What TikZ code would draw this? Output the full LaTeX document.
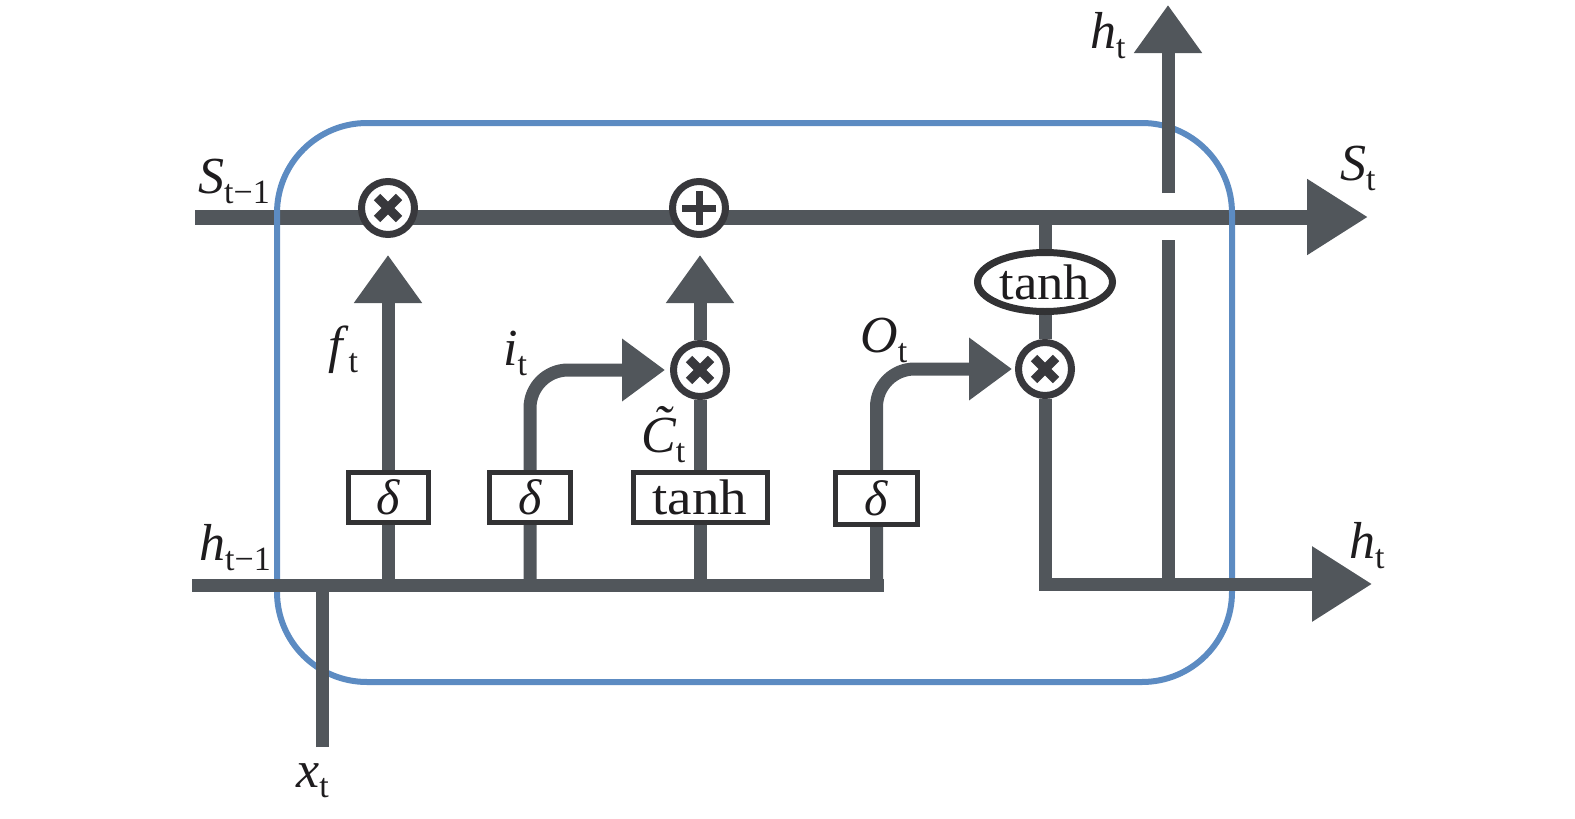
\documentclass[tikz,border=0pt]{standalone}
\usepackage{fontspec}
\setmainfont{Liberation Serif}
\usetikzlibrary{arrows.meta,shapes.geometric}
\pgfdeclarelayer{lzero}
\pgfdeclarelayer{lone}
\pgfdeclarelayer{ltwo}
\pgfsetlayers{lzero,lone,ltwo,main}
\definecolor{lg}{RGB}{81,86,91}
\definecolor{cb}{RGB}{56,56,60}
\definecolor{bx}{RGB}{50,50,52}
\definecolor{bl}{RGB}{92,139,194}
\definecolor{tx}{RGB}{30,28,30}
\newcommand{\lab}[2]{\textit{#1}\raisebox{-10pt}{\fontsize{34}{34}\selectfont #2}}
\newcommand{\ctilde}{\ooalign{C\cr\hidewidth\kern0.12em\raisebox{0.2em}{\char"02DC}\hidewidth\cr}}
\newcommand{\mulsign}[1]{\draw[cb,line width=9pt] ([shift={(-11,-11)}]#1.center) -- ([shift={(11,11)}]#1.center) ([shift={(-11,11)}]#1.center) -- ([shift={(11,-11)}]#1.center);}
\begin{document}
\begin{tikzpicture}[x=1pt,y=-1pt,
  wire/.style={draw=lg,line width=13pt,line join=miter},
  tipv/.style={-{Triangle[width=65pt,length=48pt]}},
  tiph/.style={-{Triangle[width=60pt,length=43pt]}},
  tipbig/.style={-{Triangle[width=72pt,length=60pt]}},
  gate/.style={draw=bx,line width=5pt,fill=white,inner sep=0pt,minimum height=50pt,text=tx,font=\fontsize{50}{50}\selectfont},
  op/.style={circle,draw=cb,line width=7pt,fill=white,minimum size=53pt,inner sep=0pt},
  lbl/.style={anchor=base west,inner sep=0pt,text=tx,font=\fontsize{52}{52}\selectfont}]
\useasboundingbox (0,0) rectangle (1575,819);
% coordinates
\coordinate (sl) at (195,217);
\coordinate (sr) at (1368,217);
\coordinate (hl) at (192,585);
\coordinate (he) at (884,585);
\coordinate (hr) at (1372,584);
\coordinate (xb) at (322,747);
\coordinate (ht) at (1168,5);
\coordinate (g1) at (1168,240);
\coordinate (g2) at (1168,193);
\coordinate (f1) at (388,255);
\coordinate (f2) at (700,255);
% nodes
\node[op] (m1) at (388,208) {};
\node[op] (add) at (699,208) {};
\node[op] (m2) at (700,370) {};
\node[op] (m3) at (1045,369) {};
\node[gate,minimum width=80pt] (b1) at (388,497.5) {\textit{δ}};
\node[gate,minimum width=81pt] (b2) at (530,497.5) {\textit{δ}};
\node[gate,minimum width=134pt] (bt) at (700,497.5) {\scalebox{1.1}[1]{tanh}};
\node[gate,minimum width=82pt,minimum height=52pt] (b3) at (876.5,498.5) {\textit{δ}};
\node[ellipse,draw=bx,line width=7pt,fill=white,minimum width=135pt,minimum height=59pt,inner sep=0pt,text=tx,font=\fontsize{50}{50}\selectfont] (th) at (1045,282) {\scalebox{1.05}[1]{tanh}};
% cell state line
\begin{pgfonlayer}{lzero}
\draw[draw=lg,line width=15pt,-{Triangle[width=72pt,length=61pt]}] (sl) -- (sr);
\end{pgfonlayer}
\begin{pgfonlayer}{lone}
\draw[bl,line width=6pt,rounded corners=90pt] (277,123) rectangle (1232,682);
\end{pgfonlayer}
\begin{pgfonlayer}{ltwo}
\draw[wire] (hl) -- (he);
\draw[wire] (xb) -- (xb |- hl);
\draw[wire,tipv] (b1 |- hl) -- (f1);
\draw[wire,tiph,rounded corners=38pt] (b2 |- hl) |- ([xshift=-5pt]m2.west);
\draw[wire] (bt |- hl) -- (m2);
\draw[wire,tipv] (m2) -- (f2);
\draw[wire,tiph,rounded corners=38pt] (b3 |- hl) |- ([xshift=-3pt]m3.west);
\draw[wire] (th |- sl) -- (m3);
\draw[wire,tipbig] (m3) |- (hr);
\draw[wire] (ht |- hr) -- (g1);
\draw[wire,tipv] (g2) -- (ht);
\end{pgfonlayer}
% signs
\mulsign{m1}
\mulsign{m2}
\mulsign{m3}
\draw[cb,line width=7pt] ([shift={(-17,0)}]add.center) -- ([shift={(17,0)}]add.center) ([shift={(0,-17)}]add.center) -- ([shift={(0,17)}]add.center);
% labels
\node[lbl] (lS1) at (198,193) {\lab{S}{t−1}};
\node[lbl] (lSt) at (1340,180) {\lab{S}{t}};
\node[lbl] (lht) at (1090,48) {\lab{h}{t}};
\node[lbl] (lhr) at (1349,558) {\lab{h}{t}};
\node[lbl] (lh1) at (199,560) {\lab{h}{t−1}};
\node[lbl] (lx) at (296,787) {\lab{x}{t}};
\node[lbl] (lf) at (328,362) {\lab{f}{t}};
\node[lbl] (li) at (503,365) {\lab{i}{t}};
\node[lbl] (lc) at (641,452) {\lab{\ctilde}{t}};
\node[lbl] (lo) at (860,352) {\lab{O}{t}};
\end{tikzpicture}
\end{document}
